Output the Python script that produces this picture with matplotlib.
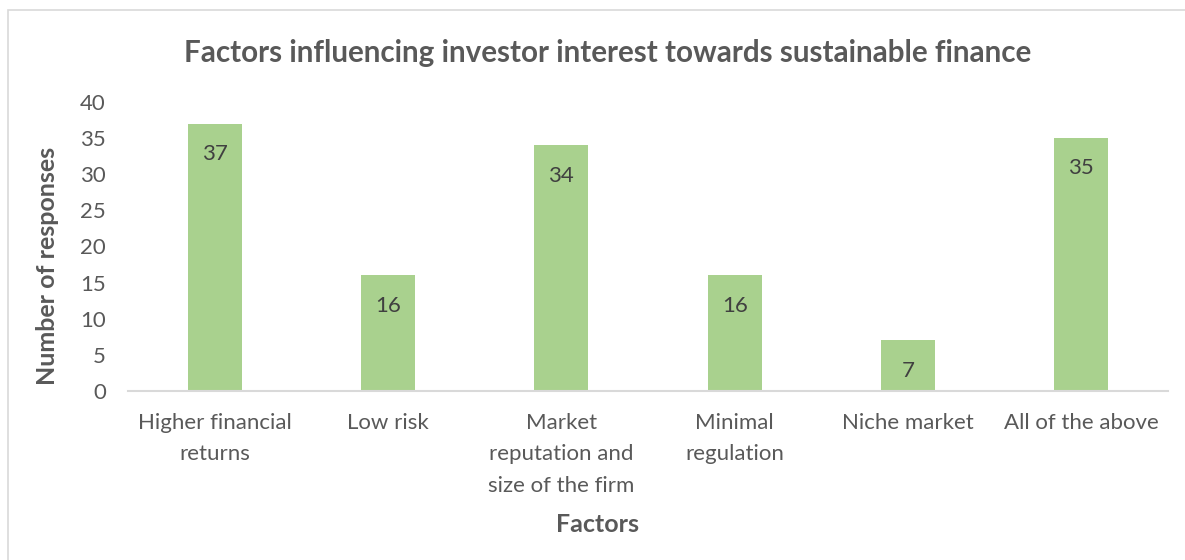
import matplotlib
matplotlib.use("Agg")
import matplotlib.pyplot as plt
from matplotlib.patches import Rectangle

categories = ["Higher financial\nreturns", "Low risk",
              "Market\nreputation and\nsize of the firm",
              "Minimal\nregulation", "Niche market", "All of the above"]
responses = [37, 16, 34, 16, 7, 35]
yticks = [0, 5, 10, 15, 20, 25, 30, 35, 40]

plt.rcParams["font.family"] = ["Lato", "DejaVu Sans"]
GREY = "#595959"
BAR = "#A9D18E"

fig = plt.figure(figsize=(11.85, 5.6), dpi=100)
# chart frame: only its top and left edges sit inside the canvas
fig.patches.append(Rectangle((8 / 1185, -0.1), 1.2, 1.1 - 10 / 560,
                             transform=fig.transFigure, fill=False,
                             edgecolor="#D9D9D9", lw=1.2))

ax = fig.add_axes([128 / 1185, 1 - 391 / 560, 1040 / 1185, 289 / 560])
x = range(len(categories))
bars = ax.bar(x, responses, width=0.31, color=BAR, zorder=2)
for b, v in zip(bars, responses):
    ax.text(b.get_x() + b.get_width() / 2, v - 4.2, str(v), ha="center",
            va="center", fontsize=16, color="#404040")

ax.set_xlim(-0.5, len(categories) - 0.5)
ax.set_ylim(0, 40)
ax.set_yticks(yticks)
ax.set_yticklabels([str(t) for t in yticks], fontsize=16, color=GREY)
ax.set_xticks(list(x))
ax.set_xticklabels(categories, fontsize=16, color=GREY, linespacing=1.72,
                   va="top")
ax.tick_params(axis="both", length=0)
ax.tick_params(axis="x", pad=15.5)
ax.tick_params(axis="y", pad=16)
for s in ("top", "right", "left"):
    ax.spines[s].set_visible(False)
ax.spines["bottom"].set_color("#D9D9D9")
ax.spines["bottom"].set_linewidth(1.5)

fig.text(608 / 1185, 1 - 53 / 560,
         "Factors influencing investor interest towards sustainable finance",
         ha="center", va="center", fontsize=21.3, fontweight="bold", color=GREY)
fig.text(48 / 1185, 1 - 266 / 560, "Number of responses", rotation=90,
         ha="center", va="center", fontsize=18, fontweight="bold", color=GREY)
fig.text(598 / 1185, 1 - 524 / 560, "Factors", ha="center", va="center",
         fontsize=18, fontweight="bold", color=GREY)

fig.savefig("out.png", dpi=100, facecolor="white")
